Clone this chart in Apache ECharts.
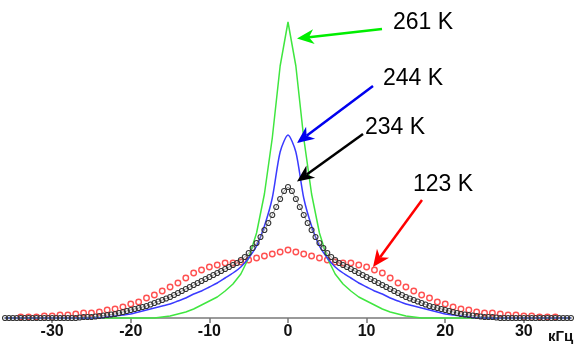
<!DOCTYPE html>
<html><head><meta charset="utf-8">
<script src="https://cdn.jsdelivr.net/npm/echarts@6/dist/echarts.min.js"></script>
<style>html,body{margin:0;padding:0;background:#fff}#c{width:584px;height:350px}</style>
</head><body><div id="c"></div>
<script>
// ---- data (frequency in кГц, intensity in arbitrary units) ----
const tickLabels = [-30, -20, -10, 0, 10, 20, 30];
const unitLabel = 'кГц';
const seriesLabels = ['261 K', '244 K', '234 K', '123 K'];

const lineX = [-36,-35,-34,-33,-32,-31,-30,-29,-28,-27,-26,-25,-24,-23,-22,-21,-20,-19,-18,-17,-16,-15,-14,-13,-12,-11,-10,-9,-8,-7,-6,-5,-4,-3,-2,-1,0,1,2,3,4,5,6,7,8,9,10,11,12,13,14,15,16,17,18,19,20,21,22,23,24,25,26,27,28,29,30,31,32,33,34,35,36];

const green261 = [0,0,0,0,0,0,0,0,0,0,0,0,0,0,0,0,0,0,0,0,1,2,4,6,9,13,17,21,27,34,44,60,85,124,180,252,296,252,180,124,85,60,44,34,27,21,17,13,9,6,4,2,1,0,0,0,0,0,0,0,0,0,0,0,0,0,0,0,0,0,0,0,0];

const blue244 = [0,0,0,0,0,0,0,0,0,0,0,0,0,1,2,3,4,6,8,10,12,14,17,20,24,27,31,35,40,45,51,60,72,92,120,166,183,166,120,92,72,60,51,45,40,35,31,27,24,20,17,14,12,10,8,6,4,3,2,1,0,0,0,0,0,0,0,0,0,0,0,0,0];

const blackX = [-36,-35.5,-35,-34.5,-34,-33.5,-33,-32.5,-32,-31.5,-31,-30.5,-30,-29.5,-29,-28.5,-28,-27.5,-27,-26.5,-26,-25.5,-25,-24.5,-24,-23.5,-23,-22.5,-22,-21.5,-21,-20.5,-20,-19.5,-19,-18.5,-18,-17.5,-17,-16.5,-16,-15.5,-15,-14.5,-14,-13.5,-13,-12.5,-12,-11.5,-11,-10.5,-10,-9.5,-9,-8.5,-8,-7.5,-7,-6.5,-6,-5.5,-5,-4.5,-4,-3.5,-3,-2.5,-2,-1.5,-1,-0.5,0,0.5,1,1.5,2,2.5,3,3.5,4,4.5,5,5.5,6,6.5,7,7.5,8,8.5,9,9.5,10,10.5,11,11.5,12,12.5,13,13.5,14,14.5,15,15.5,16,16.5,17,17.5,18,18.5,19,19.5,20,20.5,21,21.5,22,22.5,23,23.5,24,24.5,25,25.5,26,26.5,27,27.5,28,28.5,29,29.5,30,30.5,31,31.5,32,32.5,33,33.5,34,34.5,35,35.5,36];

const black234 = [0,0,0,0,0,0,0,0,0,0,0,0,0,0,0,0,0,0,0,
0.5,1,1,1,1.5,2,2.5,3,3.5,4,5,6,7,8,9,10,11,12,13.5,15,16.5,18,19.5,21,23,25,27,29,31,33,35,37,39,41,43,45,47,49,51,53,55,58,61,65,70,75,81,88,95,103,111,119,127,
131,
127,119,111,103,95,88,81,75,70,65,61,58,55,53,51,49,47,45,43,41,39,37,35,33,31,29,27,25,23,21,19.5,18,16.5,15,13.5,12,11,10,9,8,7,6,5,4,3.5,3,2.5,2,1.5,1,1,1,0.5,
0,0,0,0,0,0,0,0,0,0,0,0,0,0,0,0,0,0,0];

const redX = [-34,-33,-32,-31,-30,-29,-28,-27,-26,-25,-24,-23,-22,-21,-20,-19,-18,-17,-16,-15,-14,-13,-12,-11,-10,-9,-8,-7,-6,-5,-4,-3,-2,-1,0,1,2,3,4,5,6,7,8,9,10,11,12,13,14,15,16,17,18,19,20,21,22,23,24,25,26,27,28,29,30,31,32,33,34];

const red123 = [1,1,1,2,2,3,3,4,5,5,6,8,9,11,14,16,20,23,27,31,35,40,45,48,51,53,55,55,56,58,60,62,64,66,68,66,64,62,60,58,56,55,55,53,51,48,45,40,35,31,27,23,20,16,14,11,9,8,6,5,5,4,3,3,2,2,1,1,1];

// ---- chart ----
const chart = echarts.init(document.getElementById('c'), null, {renderer: 'canvas'});
const pair = (xs, ys) => xs.map((x, i) => [x, ys[i]]);

function arrow(x1, y1, x2, y2, color) {
  const dx = x2 - x1, dy = y2 - y1, L = Math.hypot(dx, dy);
  const ux = dx / L, uy = dy / L, px = -uy, py = ux;
  const hl = 17, hw = 7.5, notch = 5;
  const bx = x2 - ux * hl, by = y2 - uy * hl;
  const nx = x2 - ux * (hl - notch), ny = y2 - uy * (hl - notch);
  return [
    {type: 'line', shape: {x1: x1, y1: y1, x2: nx, y2: ny}, style: {stroke: color, lineWidth: 2.5}, z: 100},
    {type: 'polygon', shape: {points: [[x2, y2], [bx + px * hw, by + py * hw], [nx, ny], [bx - px * hw, by - py * hw]]}, style: {fill: color}, z: 100}
  ];
}
function label(text, x, y) {
  return {type: 'text', x: x, y: y, z: 100,
    style: {text: text, fill: '#000', font: '23px "Liberation Sans", Arial, sans-serif', textVerticalAlign: 'middle'}};
}

const option = {
  animation: false,
  backgroundColor: '#fff',
  grid: {left: 5, right: 13, top: 18, bottom: 32},
  xAxis: {
    type: 'value', min: -36, max: 36,
    axisLine: {show: true, lineStyle: {color: '#9a9a9a', width: 2}},
    axisTick: {show: true, customValues: tickLabels, length: 5, lineStyle: {color: '#777', width: 1.5}},
    axisLabel: {customValues: tickLabels, fontFamily: '"Liberation Sans", Arial, sans-serif', fontWeight: 'bold', fontSize: 16, color: '#111', margin: 6},
    splitLine: {show: false}
  },
  yAxis: {type: 'value', min: 0, max: 300, show: false, splitLine: {show: false}},
  series: [
    {type: 'line', name: seriesLabels[3], data: pair(redX, red123), symbol: 'circle', symbolSize: 5.5, showAllSymbol: true,
      itemStyle: {color: 'rgba(255,255,255,0)', borderColor: '#ff5050', borderWidth: 1.4},
      lineStyle: {width: 0, opacity: 0}, clip: false, z: 2},
    {type: 'line', name: seriesLabels[0], data: pair(lineX, green261), showSymbol: false,
      lineStyle: {color: '#3fe63f', width: 1.5}, clip: false, z: 3},
    {type: 'line', name: seriesLabels[1], data: pair(lineX, blue244), showSymbol: false, smooth: 0.25,
      lineStyle: {color: '#3a3aff', width: 1.5}, clip: false, z: 4},
    {type: 'line', name: seriesLabels[2], data: pair(blackX, black234), symbol: 'circle', symbolSize: 5, showAllSymbol: true,
      itemStyle: {color: 'rgba(255,255,255,0)', borderColor: '#333', borderWidth: 1.1},
      lineStyle: {color: '#888', width: 0.8}, clip: false, z: 5}
  ],
  graphic: [].concat(
    arrow(382, 29, 297, 38.5, '#00ee00'),
    arrow(373, 86, 297, 143, '#0000ee'),
    arrow(363, 134, 297, 181.5, '#000000'),
    arrow(422, 200, 373, 267, '#ff0000'),
    [label(seriesLabels[0], 393, 22.5), label(seriesLabels[1], 383, 79), label(seriesLabels[2], 365, 127.5), label(seriesLabels[3], 413, 185),
     {type: 'text', x: 548, y: 337, z: 100, style: {text: unitLabel, fill: '#111', font: 'bold 15px "Liberation Sans", Arial, sans-serif', textVerticalAlign: 'middle'}}]
  )
};
chart.setOption(option);
</script>
</body></html>
